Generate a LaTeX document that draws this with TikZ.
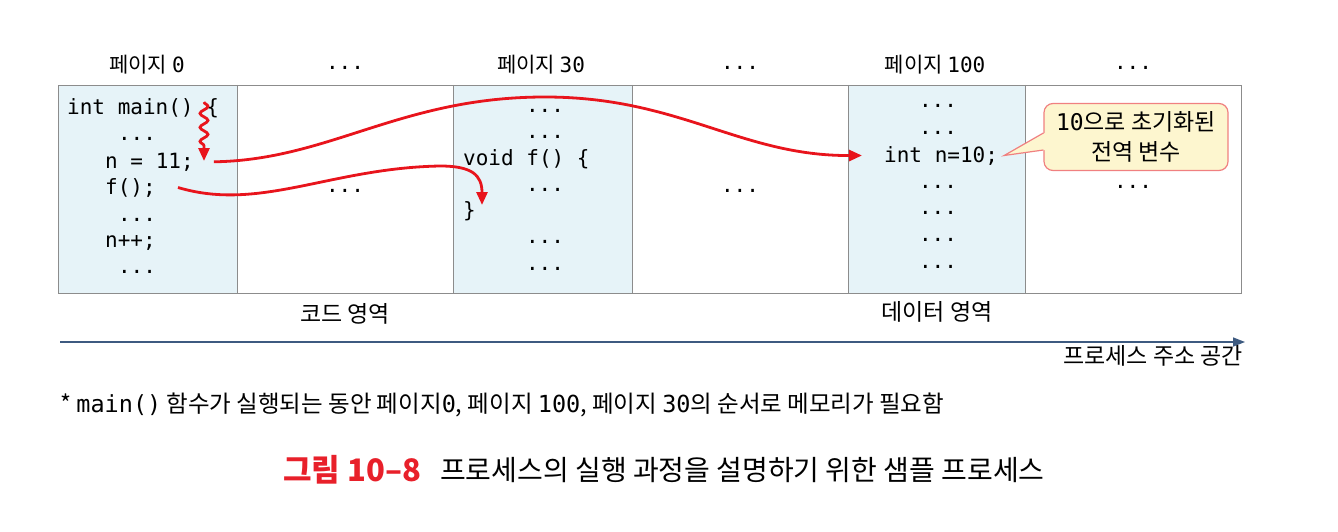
\documentclass[tikz,border=0pt]{standalone}
\usepackage{fontspec}
\usetikzlibrary{arrows.meta,decorations.pathmorphing}
\newfontfamily\kr{Noto Sans CJK KR}
\newfontfamily\mono{DejaVu Sans Mono}
\definecolor{cellblue}{HTML}{E6F3F8}
\definecolor{gridgray}{HTML}{8C8C8C}
\definecolor{arrred}{HTML}{E8141C}
\definecolor{axisblue}{HTML}{3D5A80}
\definecolor{calloutfill}{HTML}{FDF6CF}
\definecolor{calloutdraw}{HTML}{F08080}
\definecolor{titlered}{HTML}{E8202A}
\begin{document}
\begin{tikzpicture}[x=1pt,y=-1pt,
  code/.style={font=\mono\fontsize{21}{25}\selectfont, inner sep=0pt, anchor=base west},
  dots/.style={font=\mono\fontsize{21}{25}\selectfont, inner sep=0pt, anchor=base},
  krlabel/.style={font=\kr\fontsize{21}{25}\selectfont, inner sep=0pt, anchor=base},
  krbig/.style={font=\kr\fontsize{23}{27}\selectfont, inner sep=0pt, anchor=base},
  redarrow/.style={draw=arrred, line width=2.8pt, -{Triangle[length=13pt,width=11pt]}},
  gridline/.style={draw=gridgray, line width=0.9pt},
  calloutbox/.style={draw=calloutdraw, fill=calloutfill, line width=1.2pt, rounded corners=9pt,
     minimum width=184pt, minimum height=67pt, align=center, inner sep=2pt,
     font=\kr\fontsize{23}{30}\selectfont}
]
\useasboundingbox (0,0) rectangle (1338,532);
% cells
\fill[cellblue] (58,85) rectangle (237,293);
\fill[cellblue] (453,85) rectangle (632,293);
\fill[cellblue] (848,85) rectangle (1025,293);
\draw[gridline] (58,85) rectangle (1241,293);
\foreach \x in {237,453,632,848,1025} \draw[gridline] (\x,85) -- (\x,293);

% top labels
\node[krlabel] (lp0) at (147,73) {페이지 {\mono 0}};
\node[dots] (ld1) at (345,70) {...};
\node[krlabel] (lp30) at (541,73) {페이지 {\mono 30}};
\node[dots] (ld2) at (740,70) {...};
\node[krlabel] (lp100) at (935,73) {페이지 {\mono 100}};
\node[dots] (ld3) at (1133,70) {...};

% page 0
\node[code] (main) at (67,115) {int main() \{};
\node[dots] (d01) at (137,141) {...};
\node[code] (n11) at (105,168) {n = 11;};
\node[code] (fcall) at (105,194) {f();};
\node[dots] (d02) at (137,221) {...};
\node[code] (npp) at (105,247) {n++;};
\node[dots] (d03) at (137,273) {...};

% middle cells
\node[dots] (m1) at (345,192) {...};
\node[dots] (m2) at (740,192) {...};

% page 30
\node[dots] (d31) at (545,113) {...};
\node[dots] (d32) at (545,139) {...};
\node[code] (voidf) at (463,165) {void f() \{};
\node[dots] (d33) at (545,191) {...};
\node[code] (rbrace) at (463,217) {\}};
\node[dots] (d34) at (545,243) {...};
\node[dots] (d35) at (545,270) {...};

% page 100
\node[dots] (d11) at (938,108) {...};
\node[dots] (d12) at (938,135) {...};
\node[code] (intn) at (884,162) {int n=10;};
\node[dots] (d13) at (938,188) {...};
\node[dots] (d14) at (938,214) {...};
\node[dots] (d15) at (938,241) {...};
\node[dots] (d16) at (938,268) {...};

% right cell
\node[dots] (r1) at (1133,188) {...};

% callout
\node[calloutbox] (cb) at (1136,137) {{\mono 10}으로 초기화된\\전역 변수};
\coordinate (cbtip) at ([xshift=6pt]intn.east);
\fill[calloutfill] ([yshift=4pt,xshift=1.5pt]cb.west) -- (cbtip) -- ([yshift=-13pt,xshift=1.5pt]cb.west) -- cycle;
\draw[calloutdraw, line width=1.2pt] ([yshift=4pt]cb.west) -- (cbtip) -- ([yshift=-13pt]cb.west);

% red arrows
\coordinate (sqtop) at (204,102);
\coordinate (sqend) at (204,161);
\draw[redarrow, decorate, decoration={snake, amplitude=4pt, segment length=14pt, post length=12pt}] (sqtop) -- (sqend);
\coordinate (a1s) at ([xshift=20pt]n11.east);
\coordinate (a1e) at ([xshift=-22pt]intn.west);
\draw[redarrow] (a1s) .. controls (330,160) and (400,97) .. (545,97) .. controls (680,97) and (740,156) .. (a1e);
\coordinate (a2s) at ([xshift=22pt]fcall.east);
\coordinate (a2e) at (482,205);
\draw[redarrow] (a2s) .. controls (260,212) and (330,168) .. (440,166) .. controls (472,166) and (482,175) .. (a2e);

% region labels
\node[krbig] (code) at (345,322) {코드 영역};
\node[krbig] (data) at (937,320) {데이터 영역};

% axis
\coordinate (axs) at (60,342);
\coordinate (axe) at (1245,342);
\draw[axisblue, line width=1.6pt, -{Triangle[length=12pt,width=9pt]}] (axs) -- (axe);
\node[krbig, anchor=base east] (axlabel) at (1243,364) {프로세스 주소 공간};

% note
\node[font=\kr\fontsize{23.5}{27}\selectfont, inner sep=0pt, anchor=base west] (note) at (60,412)
  {* {\mono main()} 함수가 실행되는 동안 페이지{\mono 0}, 페이지 {\mono 100}, 페이지 {\mono 30}의 순서로 메모리가 필요함};

% title
\node[font=\kr\bfseries\fontsize{31}{34}\selectfont, text=titlered, inner sep=0pt, anchor=base west] (t1) at (283,481) {그림 10–8};
\node[font=\kr\fontsize{28}{32}\selectfont, inner sep=0pt, anchor=base west] (t2) at (440,480) {프로세스의 실행 과정을 설명하기 위한 샘플 프로세스};
\end{tikzpicture}
\end{document}
